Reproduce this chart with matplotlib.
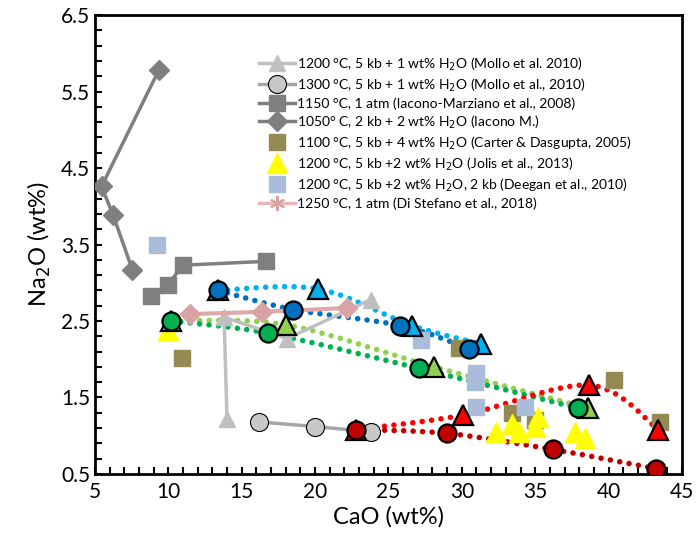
import numpy as np
import matplotlib
matplotlib.use("Agg")
import matplotlib.pyplot as plt
from matplotlib.path import Path
from matplotlib.patches import PathPatch
from matplotlib.lines import Line2D
from matplotlib.ticker import MultipleLocator

plt.rcParams['font.family'] = ['Lato', 'DejaVu Sans']

# legend series
mollo1200_x = [14.0, 13.8, 18.1, 23.8]
mollo1200_y = [1.22, 2.55, 2.27, 2.78]
mollo1300_x = [16.2, 20.0, 23.8]
mollo1300_y = [1.18, 1.12, 1.05]
iacono_mz_x = [8.85, 9.95, 11.0, 16.65]
iacono_mz_y = [2.83, 2.97, 3.23, 3.28]
iacono_m_x = [9.35, 5.45, 6.25, 7.55]
iacono_m_y = [5.78, 4.26, 3.88, 3.17]
carter_x = [10.95, 29.8, 40.4, 43.5, 33.4, 35.0]
carter_y = [2.02, 2.15, 1.73, 1.18, 1.30, 1.20]
jolis_x = [10.0, 32.3, 33.4, 33.9, 35.2, 35.0, 37.7, 38.4]
jolis_y = [2.38, 1.05, 1.15, 1.05, 1.25, 1.12, 1.05, 0.97]
deegan_x = [9.2, 27.2, 31.0, 30.9, 31.0, 34.3]
deegan_y = [3.50, 2.25, 1.82, 1.70, 1.38, 1.38]
distefano_x = [11.5, 16.4, 22.2]
distefano_y = [2.59, 2.62, 2.67]

# unlabelled model runs (dotted curves)
dblue_x = [13.4, 18.5, 25.8, 30.5]
dblue_y = [2.90, 2.65, 2.44, 2.14]
lblue_x = [13.4, 20.2, 26.6, 31.3]
lblue_y = [2.90, 2.92, 2.44, 2.20]
green_x = [10.2, 16.8, 27.1, 37.9]
green_y = [2.50, 2.34, 1.88, 1.36]
lgreen_x = [10.2, 18.0, 28.1, 38.6]
lgreen_y = [2.50, 2.45, 1.90, 1.36]
dred_x = [22.8, 29.0, 36.2, 43.2]
dred_y = [1.08, 1.03, 0.82, 0.57]
red_x = [22.8, 30.1, 38.7, 43.4]
red_y = [1.08, 1.27, 1.66, 1.08]

labels = [
    "1200 °C, 5 kb + 1 wt% H$_2$O (Mollo et al. 2010)",
    "1300 °C, 5 kb + 1 wt% H$_2$O (Mollo et al., 2010)",
    "1150 °C, 1 atm (Iacono-Marziano et al., 2008)",
    "1050° C, 2 kb + 2 wt% H$_2$O (Iacono M.)",
    "1100 °C, 5 kb + 4 wt% H$_2$O (Carter & Dasgupta, 2005)",
    "1200 °C, 5 kb +2 wt% H$_2$O (Jolis et al., 2013)",
    "1200 °C, 5 kb +2 wt% H$_2$O, 2 kb (Deegan et al., 2010)",
    "1250 °C, 1 atm (Di Stefano et al., 2018)",
]


def smooth_path(xs, ys):
    # catmull-rom style bezier through the points (like excel smoothed lines)
    p = np.column_stack([xs, ys]).astype(float)
    ext = np.vstack([p[0], p, p[-1]])
    verts = [p[0]]
    codes = [Path.MOVETO]
    for i in range(len(p) - 1):
        p0, p1, p2, p3 = ext[i], ext[i + 1], ext[i + 2], ext[i + 3]
        verts += [p1 + (p2 - p0) / 6, p2 - (p3 - p1) / 6, p2]
        codes += [Path.CURVE4] * 3
    return Path(verts, codes)


fig = plt.figure(figsize=(6.98, 5.41), dpi=100)
ax = fig.add_axes([0.136, 0.124, 0.841, 0.848])

dot = (0, (0.01, 1.7))
for xs, ys, c in [(lblue_x, lblue_y, '#00B0F0'), (dblue_x, dblue_y, '#0070C0'),
                  (lgreen_x, lgreen_y, '#92D050'), (green_x, green_y, '#00B050'),
                  (red_x, red_y, '#FF0000'), (dred_x, dred_y, '#C00000')]:
    patch = PathPatch(smooth_path(xs, ys), fill=False, edgecolor=c, lw=4,
                      linestyle=dot, capstyle='round', zorder=2)
    ax.add_patch(patch)

h1, = ax.plot(mollo1200_x, mollo1200_y, color='#BFBFBF', lw=2.5, marker='^', ms=12,
              mfc='#BFBFBF', mec='#BFBFBF', zorder=3)
h2, = ax.plot(mollo1300_x, mollo1300_y, color='#A6A6A6', lw=2.5, marker='o', ms=13,
              mfc='#C8C8C8', mec='black', mew=0.8, zorder=3)
h3, = ax.plot(iacono_mz_x, iacono_mz_y, color='#7F7F7F', lw=2.5, marker='s', ms=11,
              mfc='#7F7F7F', mec='#7F7F7F', zorder=3)
h4, = ax.plot(iacono_m_x, iacono_m_y, color='#7F7F7F', lw=2.5, marker='D', ms=10,
              mfc='#7F7F7F', mec='#7F7F7F', zorder=3)
ax.plot(distefano_x, distefano_y, color='#DDA9A9', lw=3, marker='D', ms=10,
        mfc='#D8A3A3', mec='#D8A3A3', zorder=3)
h5, = ax.plot(carter_x, carter_y, ls='none', marker='s', ms=12,
              mfc='#948A54', mec='#948A54', zorder=4)
h7, = ax.plot(deegan_x, deegan_y, ls='none', marker='s', ms=12,
              mfc='#A9BCD9', mec='#A9BCD9', zorder=4)
h6, = ax.plot(jolis_x, jolis_y, ls='none', marker='^', ms=14,
              mfc='#FFFF00', mec='#FFFF00', zorder=5)
h8 = Line2D([], [], color='#E6B9B8', lw=2.5, marker=(6, 2, 0), ms=11,
            mec='#D8A3A3', mew=1.5)

for xs, ys, c, m in [(lblue_x, lblue_y, '#00B0F0', '^'), (dblue_x, dblue_y, '#0070C0', 'o'),
                     (lgreen_x, lgreen_y, '#92D050', '^'), (green_x, green_y, '#00B050', 'o'),
                     (red_x, red_y, '#FF0000', '^'), (dred_x, dred_y, '#C00000', 'o')]:
    ax.plot(xs, ys, ls='none', marker=m, ms=13 if m == 'o' else 14, mfc=c,
            mec='black', mew=1.6, zorder=6)

leg = ax.legend([h1, h2, h3, h4, h5, h6, h7, h8], labels, loc='upper left',
                bbox_to_anchor=(0.27, 0.925), frameon=False, fontsize=10,
                handlelength=2.6, handletextpad=0.15, labelspacing=0.26,
                borderaxespad=0)

ax.set_xlim(5, 45)
ax.set_ylim(0.5, 6.5)
ax.xaxis.set_major_locator(MultipleLocator(5))
ax.xaxis.set_minor_locator(MultipleLocator(1))
ax.yaxis.set_major_locator(MultipleLocator(1, offset=0.5))
ax.yaxis.set_minor_locator(MultipleLocator(0.2, offset=0.1))
ax.tick_params(which='both', direction='in', length=5, width=1.5, labelsize=15)
ax.tick_params(axis='x', pad=6)
for s in ax.spines.values():
    s.set_linewidth(2)

ax.set_xlabel("CaO (wt%)", fontsize=17, labelpad=3)
ax.set_ylabel("Na$_2$O (wt%)", fontsize=17, labelpad=6)

fig.savefig("out.png", dpi=100)
